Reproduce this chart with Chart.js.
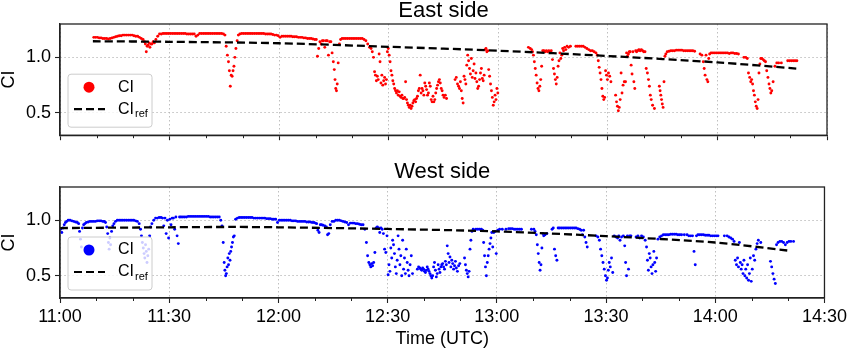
<!DOCTYPE html>
<html>
<head>
<meta charset="utf-8">
<script src="https://cdn.jsdelivr.net/npm/chart.js@4/dist/chart.umd.min.js"></script>
<style>
  html, body { margin: 0; padding: 0; background: #fff; }
  #wrap { position: relative; width: 850px; height: 350px; }
  #wrap canvas { position: absolute; left: 0; }
</style>
</head>
<body>
<div id="wrap">
  <canvas id="east" width="850" height="150" style="top:0"></canvas>
  <canvas id="west" width="850" height="200" style="top:150px"></canvas>
</div>
<script>
// Time axis is minutes after 11:00 UTC
const majorTicks = [0, 30, 60, 90, 120, 150, 180, 210];
const tickLabels = ['11:00', '11:30', '12:00', '12:30', '13:00', '13:30', '14:00', '14:30'];
const minorTicks = [10, 20, 40, 50, 70, 80, 100, 110, 130, 140, 160, 170, 190, 200];
const yTicks = [0.5, 1.0];

// CI samples, one row per minute (first row = eastStart / westStart)
const eastStart = 9;
const eastCI = [
  [1.18,1.18],[1.18,1.175],[1.175,1.17],[1.17,1.17],[1.165,1.17],[1.175,1.18],[1.185,1.19],[1.195,1.195],[1.2,1.2],[1.2,1.2],                       // 11:09
  [1.2,1.2],[1.195,1.19],[1.19,1.18],[1.17,1.16],[1.14,1.12,1.05,1.1],[1.11,1.13,1.09,1.12],[1.12,1.14,1.13],[1.16,1.19],[1.21,1.21],[1.215,1.215], // 11:19
  [1.215,1.215],[1.215,1.215],[1.215,1.215],[1.215,1.215],[1.215,1.215],[1.215,1.21],[1.21,1.21],[1.21,1.21],[1.19,1.2],[1.215,1.215],            // 11:29
  [1.215,1.215],[1.215,1.215],[1.215,1.215],[1.215,1.215],[1.215,1.215],[1.215,1.21],[1.2,1.1,1.02],[0.96,0.88,0.74,0.84],[0.83,0.88,0.92,1.0],[1.08,1.15,1.2], // 11:39
  [1.21,1.215],[1.215,1.215],[1.215,1.215],[1.215,1.215],[1.215,1.215],[1.215,1.215],[1.215,1.215],[1.21,1.21],[1.21,1.21],[1.205,1.2],           // 11:49
  [1.2,1.195],[1.18,1.19],[1.19,1.19],[1.19,1.19],[1.19,1.185],[1.185,1.185],[1.18,1.18],[1.18,1.175],[1.175,1.17],[1.17,1.17],                   // 11:59
  [1.165,1.16],[1.16,1.01,1.08],[1.14,1.12,1.15],[1.15,1.09,1.15],[1.15,1.02,1.14],[1.14,1.04,0.96],[0.89,0.8,0.72,0.7,0.76],[0.95,1.12,1.16],[1.17,1.17],[1.17,1.17], // 12:09
  [1.17,1.17],[1.17,1.17],[1.17,1.17],[1.17,1.17],[1.16,1.15],[1.12,1.09],[1.08,1.05,1.0],[0.87,0.84,0.79,0.83],[0.8,1.03,0.96,0.77],[0.84,0.75,0.79,0.82], // 12:19
  [0.76,0.8,1.05,1.08],[1.02,0.96,0.88,0.84],[0.79,0.76,0.72,0.7],[0.68,0.7,0.66,0.69],[0.65,0.64,0.66,0.63],[0.63,0.64,0.78,0.62],[0.59,0.57,0.55,0.57],[0.54,0.56,0.59,0.61],[0.62,0.6,0.63,0.65],[0.7,0.72,0.84,0.68], // 12:29
  [0.72,0.7,0.66,0.77],[0.74,0.71,0.66,0.68],[0.77,0.74,0.62,0.6],[0.65,0.6,0.62,0.68],[0.72,0.75,0.78,0.8],[0.77,0.72,0.7,0.66],[0.64,0.66,0.63],[],[],[0.8,0.82,0.76], // 12:39
  [0.74,0.72,0.78,0.7],[0.63,0.59,0.83,0.8],[0.76,0.93,1.02,0.97],[0.9,0.85,0.99,0.82],[0.88,0.94,0.81,0.86],[0.78,0.72,0.74,0.8],[0.86,0.9,0.81,0.79],[0.84,1.07,1.08,1.05],[1.06,0.89,0.83,0.76],[0.7,0.64,0.57,0.6], // 12:49
  [0.66,0.62,0.72,0.68],[],[],[],[],[],[],[],[],[1.09,1.08],                                                                                         // 12:59
  [1.07,1.05,1.02,0.96],[0.9,0.84,0.77,0.72],[0.7,0.74,0.8,0.92],[1.06,1.06,1.05],[1.06,1.05,1.06],[1.05,1.06,0.98],[0.9,0.85,0.8,0.76],[0.82,0.92,0.97,1.04],[0.99,1.02,1.08,1.06],[1.09,1.07,1.1], // 13:09
  [1.09,1.1],[],[1.1,1.1],[1.1,1.1],[1.1,1.09],[1.08,1.07],[1.06,1.06],[1.05,1.04],[1.02,0.97,0.91,0.86],[0.8,0.72,0.65,0.62],                     // 13:19
  [0.64,0.88,0.84,0.8],[0.86,0.83,0.78],[],[0.66,0.6,0.56,0.52],[0.55,0.62,0.86,0.68],[0.75,0.78,0.78],[1.04,1.01,1.03,1.05],[1.05,0.93,0.85,1.05],[0.78,0.72,1.06,1.05],[1.06,1.07,1.06], // 13:29
  [1.07,1.06,1.05],[1.05,0.9,0.86],[0.8,0.74,0.66,0.62],[0.57,0.54],[],[0.74,0.7,0.66,0.62,0.58],[0.55,0.78,1.01,1.03],[1.05,1.055],[1.06,1.06],[1.06,1.065], // 13:39
  [1.065,1.065],[1.065,1.06],[1.06,1.06],[1.06,1.06],[1.06,1.055],[],[1.03,1.02],[0.96,0.9,0.84,1.02],[0.8,0.78,0.99,1.03],[1.04,1.04],            // 13:49
  [1.04,1.04],[1.04,1.04],[1.04,1.04],[1.04,1.04],[1.035,1.04],[1.04,1.035],[1.035,1.03],[],[1.0,1.0],[0.99,0.86,0.82],                           // 13:59
  [0.78,0.8,0.76,0.7],[0.66,0.6,0.56,0.54],[0.62,0.86,0.94,0.99],[0.99,0.98,0.97],[0.96,0.88,0.82],[0.76,0.72,0.68,0.7],[0.78,0.92],[0.95,0.95],[0.95],[], // 14:09
  [0.97,0.97],[0.97,0.97],[0.97,0.97]                                                                                                             // 14:19
];
const eastRefTime = [9, 30, 60, 90, 120, 150, 180, 202];
const eastRef = [1.145, 1.14, 1.127, 1.095, 1.06, 1.012, 0.955, 0.898];

const westStart = 0;
const westCI = [
  [0.92,0.89,0.93],[0.96,0.98,0.99],[1.0,1.0],[0.995,0.99],[0.985,0.98],[0.97,0.9,0.83,0.76],[0.93,0.96,0.97],[0.98,0.985],[0.99,0.99],[0.99,0.99], // 11:00
  [0.995,0.995],[0.995,0.99],[0.99,0.98,0.94],[0.88,0.8,0.74,0.84,0.78],[0.9,0.95,0.97],[0.99,1.0],[1.0,1.0],[1.0,1.0],[1.0,1.0],[1.0,1.0],        // 11:10
  [1.0,0.995],[0.99,0.97],[0.92,0.86,0.8,0.75],[0.7,0.66,0.78,0.72,0.62],[0.68,0.74,0.86,0.94],[0.97,1.0],[1.02,1.02],[1.025,1.025],[1.02,0.95,1.02],[0.88,1.0,0.84], // 11:20
  [1.01,0.96,1.02],[1.02,0.92,1.03],[0.86,0.79,1.03],[1.03,1.03],[1.03,1.03],[1.035,1.035],[1.035,1.035],[1.035,1.035],[1.035,1.035],[1.035,1.035], // 11:30
  [1.035,1.035],[1.03,1.03],[1.03,1.03],[1.03,1.03],[1.0,0.95,0.8],[0.62,0.55,0.5,0.52,0.58],[0.66,0.6,0.7,0.64,0.72],[0.76,0.8,0.85,0.86],[1.01,1.02],[1.025,1.025], // 11:40
  [1.025,1.025],[1.025,1.025],[1.025,1.025],[1.02,1.02],[1.02,1.02],[1.02,1.02],[1.02,1.015],[1.015,1.015],[1.01,1.01],[1.01,0.98],               // 11:50
  [1.0,1.0],[1.0,1.0],[1.0,1.0],[1.0,0.995],[0.995,0.995],[0.99,0.99],[0.99,0.99],[0.99,0.985],[0.985,0.985],[0.98,0.98],                         // 12:00
  [0.975,0.97,0.91],[0.89,0.96,0.96],[0.955,0.95],[0.94,0.87,0.88],[0.96,0.99],[0.99,1.0],[1.0,1.0],[0.995,0.99],[0.985,0.98],[0.96,0.975],       // 12:10
  [0.975,0.975],[0.97,0.97],[0.965,0.96],[0.96,0.92],[0.8,0.68,0.62],[0.6,0.58,0.61,0.59],[0.62,0.71,0.93],[0.94,0.93,0.89],[0.93,0.92,0.88],[0.74,0.71,0.86], // 12:20
  [0.51,0.6,0.54,0.75],[0.66,0.82,0.78,0.7],[0.58,0.52,0.64,0.86],[0.74,0.6,0.68,0.5],[0.82,0.56,0.66,0.52],[0.74,0.62,0.55,0.5],[0.6,0.68,0.52],[],[0.56,0.58,0.57],[0.56,0.55,0.57,0.56], // 12:30
  [0.54,0.53,0.55,0.58],[0.56,0.54,0.52,0.5],[0.48,0.5,0.58,0.62],[0.55,0.49,0.52,0.6],[0.56,0.53,0.58,0.6],[0.61,0.58,0.56,0.63],[0.6,0.77,0.7,0.62],[0.67,0.58,0.64,0.61],[0.56,0.59,0.63,0.57],[0.54,0.59,0.61], // 12:40
  [],[0.66,0.6,0.55,0.52],[0.49,0.54,0.74,0.82],[0.9,0.92,0.91],[0.92,0.92],[0.92,0.92],[0.91,0.8,0.68,0.58],[0.5,0.62,0.68,0.74],[0.79,0.84,0.89,0.76],[0.89,0.9,0.7], // 12:50
  [0.91,0.92],[0.92],[0.92],[0.925,0.925],[0.925,0.92],[0.92,0.92],[0.92,0.92],[],[],[0.92],                                                      // 13:00
  [0.92,0.9,0.87],[0.78,0.7,0.62,0.55],[0.6,0.75,0.88,0.86],[0.87,0.88],[],[0.92,0.93,0.74],[0.68,0.64,0.93],[0.93,0.93],[0.93,0.93],[0.93,0.93], // 13:10
  [0.93,0.93],[0.93,0.93],[0.925,0.92],[0.91,0.87,0.91],[0.85,0.8,0.76],[],[],[0.86,0.85],[0.82,0.74,0.68],[0.62,0.56,0.5],                        // 13:20
  [0.46,0.48,0.55,0.62],[0.58,0.66,0.53],[0.86,0.85],[0.84,0.86,0.82],[0.85,0.86],[0.77,0.62,0.5,0.86],[0.56,0.86,0.86],[],[0.85,0.86],[0.84,0.86], // 13:30
  [0.85,0.82],[0.76,0.64,0.55,0.7],[0.66,0.58,0.52,0.6],[0.72,0.62,0.54,0.66],[0.83,0.85],[0.86,0.87],[0.87,0.87],[0.87,0.875],[0.875,0.875],[0.875,0.87], // 13:40
  [0.87,0.87],[0.87],[0.87,0.86],[0.86,0.86],[0.72,0.6,0.86],[0.87,0.87],[0.87,0.87],[0.865,0.865],[0.865,0.86],[0.86,0.86],                      // 13:50
  [0.86,0.86],[],[0.86],[0.86,0.85],[0.84,0.83],[0.81,0.64,0.6],[0.66,0.58,0.8,0.62],[0.56,0.6,0.52,0.64],[0.5,0.56,0.48,0.6],[0.46,0.52,0.66,0.45], // 14:00
  [0.56,0.68,0.64],[0.74,0.79,0.82],[0.8],[],[],[0.63,0.58,0.52],[0.47,0.43,0.78],[0.8,0.81],[0.81,0.8],[0.78,0.8],                                // 14:10
  [0.81,0.81],[0.81]                                                                                                                               // 14:20
];
const westRefTime = [0, 30, 48, 60, 90, 120, 150, 180, 200];
const westRef = [0.93, 0.937, 0.94, 0.937, 0.922, 0.90, 0.857, 0.80, 0.727];

const FONT = '"Liberation Sans", Arial, sans-serif';
const GRID = '#b8b8b8';
const AXIS = '#222';

function rowsToPoints(start, rows) {
  const pts = [];
  rows.forEach((row, i) => {
    row.forEach((v, j) => pts.push({ x: start + i + (j + 0.5) / row.length, y: v }));
  });
  return pts;
}

function pairPoints(xs, ys) {
  return xs.map((x, i) => ({ x, y: ys[i] }));
}

// Panel title above the plot area
const panelTitle = {
  id: 'panelTitle',
  afterDraw(chart, args, opts) {
    const { ctx, chartArea } = chart;
    ctx.save();
    ctx.font = `22px ${FONT}`;
    ctx.fillStyle = '#000';
    ctx.textAlign = 'center';
    ctx.textBaseline = 'alphabetic';
    ctx.fillText(opts.text, (chartArea.left + chartArea.right) / 2, opts.y);
    ctx.restore();
  }
};

// Full box around the plot area, plus the short minor ticks below it
const frame = {
  id: 'frame',
  afterDraw(chart) {
    const { ctx, chartArea: a, scales } = chart;
    ctx.save();
    ctx.strokeStyle = AXIS;
    ctx.setLineDash([]);
    ctx.lineWidth = 1;
    ctx.beginPath();
    for (const v of minorTicks) {
      const px = Math.round(scales.x.getPixelForValue(v)) + 0.5;
      ctx.moveTo(px, a.bottom);
      ctx.lineTo(px, a.bottom + 3);
    }
    ctx.stroke();
    ctx.lineWidth = 1.3;
    ctx.strokeRect(a.left, a.top, a.right - a.left, a.bottom - a.top);
    ctx.restore();
  }
};

// Semi-transparent legend box in the lower left corner
const boxLegend = {
  id: 'boxLegend',
  afterDatasetsDraw(chart, args, opts) {
    const { ctx, chartArea: a } = chart;
    const w = 84, h = 53;
    const x = a.left + 8, y = a.bottom - 8 - h;
    ctx.save();
    ctx.beginPath();
    ctx.roundRect(x, y, w, h, 3);
    ctx.fillStyle = 'rgba(255,255,255,0.8)';
    ctx.fill();
    ctx.strokeStyle = '#cccccc';
    ctx.lineWidth = 1;
    ctx.stroke();

    ctx.beginPath();
    ctx.arc(x + 21, y + 13, 5.5, 0, Math.PI * 2);
    ctx.fillStyle = opts.color;
    ctx.fill();

    ctx.beginPath();
    ctx.setLineDash([8, 4]);
    ctx.lineWidth = 2.2;
    ctx.strokeStyle = '#000';
    ctx.moveTo(x + 6, y + 35);
    ctx.lineTo(x + 37, y + 35);
    ctx.stroke();
    ctx.setLineDash([]);

    ctx.fillStyle = '#000';
    ctx.textBaseline = 'middle';
    ctx.textAlign = 'left';
    ctx.font = `16px ${FONT}`;
    ctx.fillText('CI', x + 50, y + 13);
    ctx.fillText('CI', x + 50, y + 35);
    const ciW = ctx.measureText('CI').width;
    ctx.font = `11px ${FONT}`;
    ctx.fillText('ref', x + 50 + ciW + 1, y + 40);
    ctx.restore();
  }
};

function makePanel(canvasId, opts) {
  const allTicks = [...majorTicks, ...minorTicks].sort((a, b) => a - b);
  return new Chart(document.getElementById(canvasId), {
    type: 'scatter',
    data: {
      datasets: [
        {
          label: 'CI_ref',
          data: pairPoints(opts.refTime, opts.ref),
          showLine: true,
          borderColor: '#000',
          borderWidth: 2.3,
          borderDash: [8, 4],
          pointRadius: 0,
          tension: 0.3,
          order: 0
        },
        {
          label: 'CI',
          data: rowsToPoints(opts.start, opts.rows),
          backgroundColor: opts.color,
          borderWidth: 0,
          pointRadius: 1.45,
          order: 1
        }
      ]
    },
    options: {
      responsive: false,
      animation: false,
      devicePixelRatio: 1,
      layout: { padding: { top: opts.padTop, right: 23, left: 0, bottom: 0 } },
      plugins: {
        legend: { display: false },
        tooltip: { enabled: false },
        panelTitle: { text: opts.title, y: opts.titleY },
        boxLegend: { color: opts.color }
      },
      scales: {
        x: {
          type: 'linear',
          min: 0,
          max: 210,
          afterBuildTicks: s => { s.ticks = allTicks.map(v => ({ value: v })); },
          afterFit: s => { s.height = opts.xHeight; },
          border: { display: true, color: AXIS, width: 1.3, dash: [1.5, 2.5] },
          grid: {
            color: c => (c.tick && majorTicks.includes(c.tick.value)) ? GRID : 'rgba(0,0,0,0)',
            lineWidth: 0.9,
            tickColor: c => (c.tick && majorTicks.includes(c.tick.value)) ? AXIS : 'rgba(0,0,0,0)',
            tickLength: 5,
            tickWidth: 1.1,
            tickBorderDash: []
          },
          ticks: {
            autoSkip: false,
            maxRotation: 0,
            padding: 3,
            color: '#000',
            font: { family: FONT, size: 18 },
            callback: v => {
              if (!opts.showX) return '';
              const i = majorTicks.indexOf(v);
              return i >= 0 ? tickLabels[i] : '';
            }
          },
          title: {
            display: opts.showX,
            text: 'Time (UTC)',
            color: '#000',
            font: { family: FONT, size: 18 },
            padding: { top: 0, bottom: 0 }
          }
        },
        y: {
          min: 0.3,
          max: 1.3,
          afterBuildTicks: s => { s.ticks = yTicks.map(v => ({ value: v })); },
          afterFit: s => { s.width = 60; },
          border: { display: true, color: AXIS, width: 1.3, dash: [1.5, 2.5] },
          grid: {
            color: GRID,
            lineWidth: 0.9,
            tickColor: AXIS,
            tickLength: 5,
            tickWidth: 1.1,
            tickBorderDash: []
          },
          ticks: {
            padding: 4,
            color: '#000',
            font: { family: FONT, size: 18 },
            callback: v => v.toFixed(1)
          },
          title: {
            display: true,
            text: 'CI',
            color: '#000',
            font: { family: FONT, size: 18, lineHeight: 1 },
            padding: 0
          }
        }
      }
    },
    plugins: [panelTitle, frame, boxLegend]
  });
}

makePanel('east', {
  title: 'East side', titleY: 17, padTop: 24, xHeight: 14, showX: false,
  start: eastStart, rows: eastCI, refTime: eastRefTime, ref: eastRef, color: '#ff0000'
});

makePanel('west', {
  title: 'West side', titleY: 28, padTop: 37, xHeight: 52, showX: true,
  start: westStart, rows: westCI, refTime: westRefTime, ref: westRef, color: '#0000ff'
});
</script>
</body>
</html>
